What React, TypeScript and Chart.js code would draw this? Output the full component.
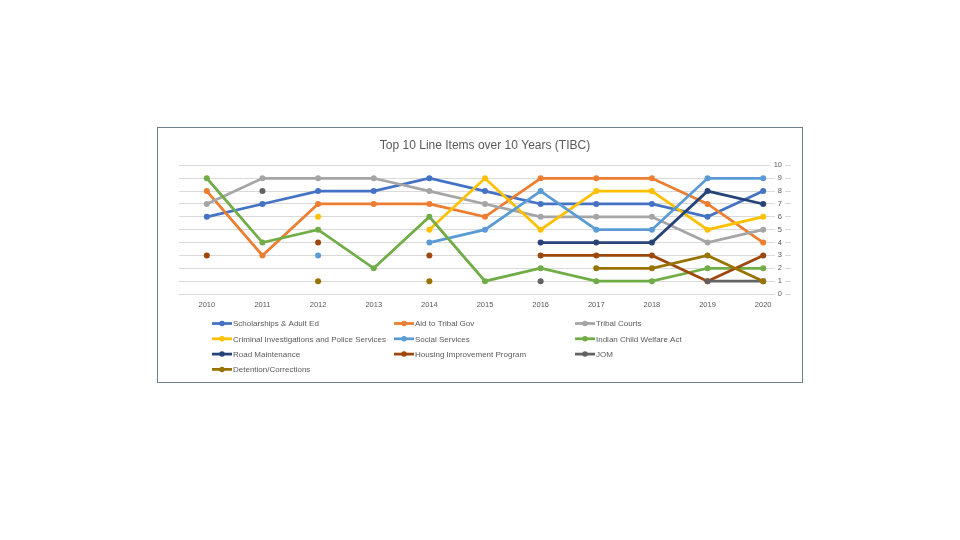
import React, { useEffect, useRef } from "react";
import { Chart, registerables } from "chart.js";

Chart.register(...registerables);

const chartTitle = "Top 10 Line Items over 10 Years (TIBC)";
const years = ["2010", "2011", "2012", "2013", "2014", "2015", "2016", "2017", "2018", "2019", "2020"];
const yTickLabels = [0, 1, 2, 3, 4, 5, 6, 7, 8, 9, 10];

const seriesNames = [
  "Scholarships & Adult Ed",
  "Aid to Tribal Gov",
  "Tribal Courts",
  "Criminal Investigations and Police Services",
  "Social Services",
  "Indian Child Welfare Act",
  "Road Maintenance",
  "Housing Improvement Program",
  "JOM",
  "Detention/Corrections",
];
const seriesColors = [
  "#4472C4",
  "#ED7D31",
  "#A5A5A5",
  "#FFC000",
  "#5B9BD5",
  "#70AD47",
  "#264478",
  "#9E480E",
  "#636363",
  "#997300",
];

const scholarships = [6, 7, 8, 8, 9, 8, 7, 7, 7, 6, 8];
const aidToTribalGov = [8, 3, 7, 7, 7, 6, 9, 9, 9, 7, 4];
const tribalCourts = [7, 9, 9, 9, 8, 7, 6, 6, 6, 4, 5];
const criminalInvestigations = [null, null, 6, null, 5, 9, 5, 8, 8, 5, 6];
const socialServices = [null, null, 3, null, 4, 5, 8, 5, 5, 9, 9];
const indianChildWelfare = [9, 4, 5, 2, 6, 1, 2, 1, 1, 2, 2];
const roadMaintenance = [null, null, null, null, null, null, 4, 4, 4, 8, 7];
const housingImprovement = [3, null, 4, null, 3, null, 3, 3, 3, 1, 3];
const jom = [null, 8, null, null, null, null, 1, null, null, 1, 1];
const detentionCorrections = [null, null, 1, null, 1, null, null, 2, 2, 3, 1];

const seriesValues = [
  scholarships,
  aidToTribalGov,
  tribalCourts,
  criminalInvestigations,
  socialServices,
  indianChildWelfare,
  roadMaintenance,
  housingImprovement,
  jom,
  detentionCorrections,
];

const FONT = "'Liberation Sans', Arial, sans-serif";
const TEXT = "#595959";

const overlayPlugin = {
  id: "overlay",
  afterDraw(chart: any) {
    const ctx = chart.ctx as CanvasRenderingContext2D;
    const yScale = chart.scales.y;
    const area = chart.chartArea;
    ctx.save();
    // y tick labels drawn over the gridlines with a white backdrop
    ctx.font = `7.5px ${FONT}`;
    ctx.textAlign = "right";
    ctx.textBaseline = "middle";
    yTickLabels.forEach((v) => {
      const py = yScale.getPixelForValue(v);
      const label = String(v);
      const w = ctx.measureText(label).width;
      const x = area.right - 9;
      ctx.fillStyle = "#ffffff";
      ctx.fillRect(x - w - 3, py - 4, w + 6, 8);
      ctx.fillStyle = TEXT;
      ctx.fillText(label, x, py);
    });
    // legend in three columns
    const colX = [54, 236, 417];
    const rowY0 = area.bottom + 29.5;
    const rowStep = 15.3;
    ctx.font = `8px ${FONT}`;
    ctx.textAlign = "left";
    chart.data.datasets.forEach((ds: any, i: number) => {
      const x = colX[i % 3];
      const y = rowY0 + Math.floor(i / 3) * rowStep;
      ctx.strokeStyle = ds.borderColor;
      ctx.lineWidth = 2.75;
      ctx.beginPath();
      ctx.moveTo(x, y);
      ctx.lineTo(x + 20, y);
      ctx.stroke();
      ctx.fillStyle = ds.borderColor;
      ctx.beginPath();
      ctx.arc(x + 10, y, 2.75, 0, Math.PI * 2);
      ctx.fill();
      ctx.fillStyle = TEXT;
      ctx.fillText(ds.label, x + 21, y + 0.5);
    });
    ctx.restore();
  },
};

export default function App() {
  const ref = useRef<HTMLCanvasElement>(null);
  useEffect(() => {
    if (!ref.current) return;
    Chart.defaults.font.family = FONT;
    const n = seriesNames.length;
    const chart = new Chart(ref.current, {
      type: "line",
      data: {
        labels: years,
        datasets: seriesNames.map((name, i) => ({
          label: name,
          data: seriesValues[i] as any,
          borderColor: seriesColors[i],
          backgroundColor: seriesColors[i],
          pointBackgroundColor: seriesColors[i],
          pointBorderColor: seriesColors[i],
          borderWidth: 2.75,
          pointRadius: 3,
          pointBorderWidth: 0,
          spanGaps: false,
          tension: 0,
          order: n - i,
        })),
      },
      options: {
        responsive: false,
        animation: false,
        layout: { padding: { left: 21, right: 11, top: 0, bottom: 67 } },
        plugins: {
          legend: { display: false },
          tooltip: { enabled: false },
          title: {
            display: true,
            text: chartTitle,
            color: TEXT,
            font: { size: 12, weight: "normal", family: FONT },
            padding: { top: 10, bottom: 13 },
          },
        },
        scales: {
          x: {
            offset: true,
            grid: { display: false, drawTicks: false },
            border: { display: false },
            ticks: {
              color: TEXT,
              font: { size: 7.5, family: FONT },
              padding: 6,
              maxRotation: 0,
              autoSkip: false,
            },
          },
          y: {
            position: "right",
            min: 0,
            max: 10,
            ticks: { display: false, stepSize: 1 },
            grid: { color: "#D9D9D9", drawTicks: false, lineWidth: 1 },
            border: { display: false },
          },
        },
      },
      plugins: [overlayPlugin],
    });
    return () => chart.destroy();
  }, []);
  return (
    <div
      style={{
        position: "absolute",
        left: 157,
        top: 127,
        width: 646,
        height: 256,
        border: "1px solid #71808F",
        boxSizing: "border-box",
        background: "#ffffff",
      }}
    >
      <canvas ref={ref} width={644} height={254} style={{ display: "block", width: 644, height: 254 }} />
    </div>
  );
}
